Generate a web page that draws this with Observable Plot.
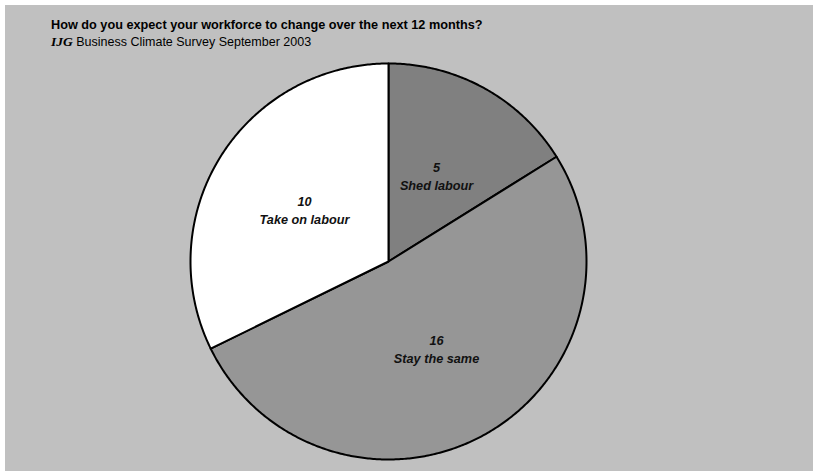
<!DOCTYPE html>
<html>
<head>
<meta charset="utf-8">
<script src="https://cdn.jsdelivr.net/npm/d3@7"></script>
<script src="https://cdn.jsdelivr.net/npm/@observablehq/plot@0.6"></script>
<style>
  html, body { margin: 0; padding: 0; background: #ffffff; }
  #frame { position: absolute; left: 5px; top: 5px; width: 808px; height: 466px; background: #c0c0c0; overflow: hidden; font-family: Arial, "Liberation Sans", sans-serif; }
  #head { height: 50px; position: relative; }
  #title { position: absolute; left: 46px; top: 13px; font-size: 12.7px; font-weight: bold; color: #000; white-space: nowrap; }
  #subtitle { position: absolute; left: 46px; top: 29px; font-size: 12.5px; color: #000; white-space: nowrap; }
  #subtitle .ijg { font-family: "Liberation Serif", "Times New Roman", serif; font-style: italic; font-weight: bold; font-size: 13.5px; }
  #chart svg { display: block; }
</style>
</head>
<body>
<div id="frame">
  <div id="head">
    <div id="title">How do you expect your workforce to change over the next 12 months?</div>
    <div id="subtitle"><span class="ijg">IJG</span> Business Climate Survey September 2003</div>
  </div>
  <div id="chart"></div>
</div>
<script>
const categories = ["Shed labour", "Stay the same", "Take on labour"];
const values = [5, 16, 10];
const fills = ["#808080", "#969696", "#ffffff"];

const total = d3.sum(values);
let acc = 0;
const slices = categories.map((c, i) => {
  const a0 = acc / total * 2 * Math.PI;
  acc += values[i];
  const a1 = acc / total * 2 * Math.PI;
  return {c, v: values[i], a0, a1};
});

const points = [];
for (const s of slices) {
  points.push({c: s.c, x: 0, y: 0});
  const n = Math.max(2, Math.ceil((s.a1 - s.a0) / (Math.PI / 360)));
  for (let k = 0; k <= n; k++) {
    const a = s.a0 + (s.a1 - s.a0) * k / n;
    points.push({c: s.c, x: Math.sin(a), y: Math.cos(a)});
  }
}

const labels = slices.map(s => {
  const m = (s.a0 + s.a1) / 2;
  return {x: 0.5 * Math.sin(m), y: 0.5 * Math.cos(m), text: `${s.v}\n${s.c}`};
});

const cx = 383, cy = 206, R = 198;
const chart = Plot.plot({
  width: 808,
  height: 416,
  margin: 0,
  x: {domain: [-1, 1], range: [cx - R, cx + R], axis: null},
  y: {domain: [-1, 1], range: [cy + R, cy - R], axis: null},
  color: {domain: categories, range: fills},
  style: {background: "transparent", fontFamily: "Arial, 'Liberation Sans', sans-serif"},
  marks: [
    Plot.line(points, {x: "x", y: "y", z: "c", fill: "c", stroke: "#000", strokeWidth: 2, strokeLinejoin: "round", curve: "linear-closed"}),
    Plot.text(labels, {x: "x", y: "y", text: "text", fontWeight: "bold", fontStyle: "italic", fontSize: 12.7, lineHeight: 1.45, fill: "#111"})
  ]
});
document.getElementById("chart").appendChild(chart);
</script>
</body>
</html>
